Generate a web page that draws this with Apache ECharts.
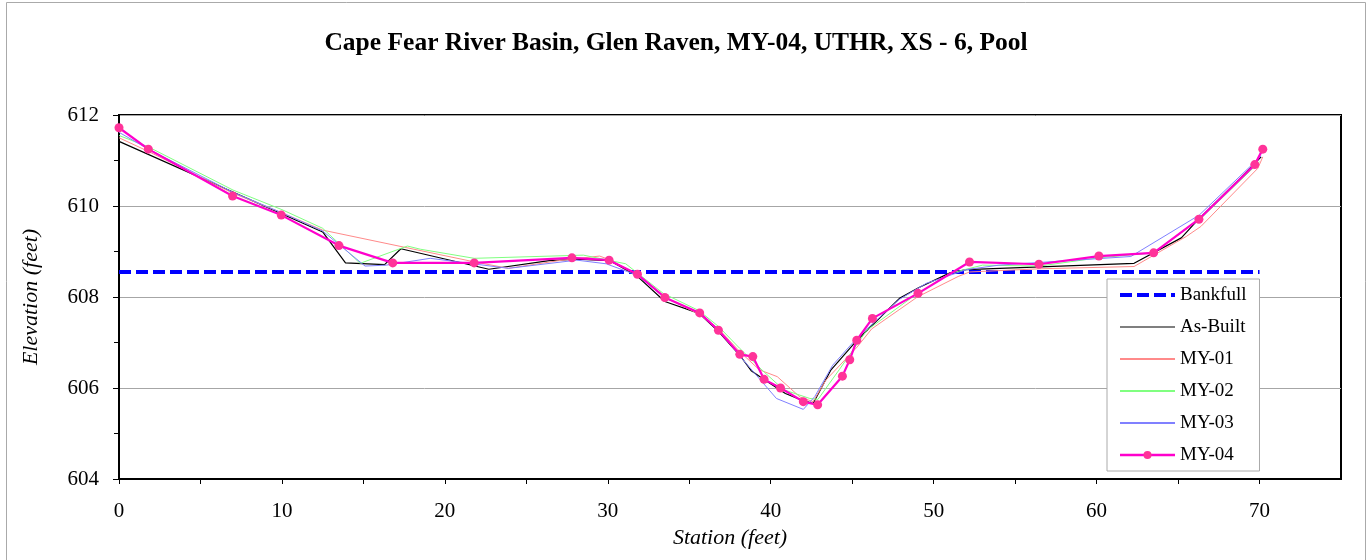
<!DOCTYPE html>
<html><head><meta charset="utf-8">
<script src="https://cdn.jsdelivr.net/npm/echarts@6/dist/echarts.min.js"></script>
<style>html,body{margin:0;padding:0;background:#fff}#c{width:1369px;height:560px}</style>
</head><body><div id="c"></div>
<script>
const titleText = 'Cape Fear River Basin, Glen Raven, MY-04, UTHR, XS - 6, Pool';
const seriesNames = ['Bankfull','As-Built','MY-01','MY-02','MY-03','MY-04'];

const bankfullX = [0, 70];
const bankfullY = [608.55, 608.55];

const asBuiltX = [0,12.5,13.9,16.3,17.3,22.7,26.4,28.1,30.1,31.8,33.5,35.6,36.8,38.1,38.8,39.5,40.9,41.8,42.6,43.7,45.3,47.9,49.1,51.0,52.0,62.3,65.2,66.2,68.8,70.1];
const asBuiltY = [611.42,609.43,608.75,608.71,609.06,608.61,608.80,608.83,608.80,608.46,607.90,607.64,607.24,606.72,606.38,606.21,605.88,605.75,605.66,606.40,607.05,607.97,608.21,608.53,608.60,608.74,609.30,609.69,610.60,611.08];

const my01X = [0,1.8,7.0,10.0,12.5,21.7,23.9,27.0,29.5,30.1,31.8,33.5,35.6,36.8,38.1,39.3,40.4,41.8,42.6,43.4,45.3,46.2,49.0,51.5,52.2,56.5,62.3,65.5,66.4,69.9,70.2];
const my01Y = [611.50,611.20,610.28,609.85,609.47,608.78,608.63,608.80,608.90,608.82,608.50,608.00,607.62,607.30,606.80,606.40,606.25,605.80,605.70,606.18,606.90,607.30,608.00,608.45,608.55,608.62,608.67,609.33,609.55,610.83,611.08];

const my02X = [0,1.8,7.0,10.0,12.5,14.8,17.7,18.5,21.8,28.5,31.1,33.4,35.6,36.8,38.1,39.6,40.8,42.4,42.9,44.2,45.9,48.7,51.0,53.0,56.5,60.1,63.5,66.5,70.0];
const my02Y = [611.55,611.30,610.35,609.92,609.51,608.74,609.12,609.05,608.85,608.92,608.73,608.08,607.70,607.35,606.87,606.35,605.96,605.77,605.75,606.40,607.27,608.00,608.52,608.70,608.68,608.86,608.97,609.76,610.97];

const my03X = [0,1.8,7.0,10.0,12.5,15.1,16.4,19.1,23.9,28.1,29.9,31.8,33.5,35.6,36.8,38.3,40.35,42.0,42.7,43.8,45.3,47.9,49.55,52.0,54.0,62.1,66.3,70.1];
const my03Y = [611.62,611.25,610.30,609.85,609.45,608.68,608.70,608.85,608.63,608.81,608.73,608.48,607.98,607.66,607.28,606.62,605.77,605.53,605.81,606.50,607.10,607.95,608.30,608.60,608.70,608.89,609.80,611.10];

const my04X = [0,1.8,6.97,9.96,13.5,16.8,21.8,27.8,30.08,31.82,33.5,35.64,36.79,38.1,38.9,39.59,40.6,42.0,42.88,44.4,44.85,45.28,46.24,49.04,52.2,56.46,60.14,63.5,66.28,69.71,70.2];
const my04Y = [611.72,611.25,610.22,609.80,609.13,608.75,608.75,608.86,608.81,608.50,607.99,607.65,607.27,606.74,606.69,606.19,606.00,605.70,605.63,606.26,606.62,607.05,607.53,608.08,608.77,608.72,608.90,608.97,609.71,610.91,611.25];

const xTickLabels = ['0','10','20','30','40','50','60','70'];
const yTickLabels = ['604','606','608','610','612'];

function pairs(xs, ys){ return xs.map((x,i)=>[x, ys[i]]); }
const FONT = 'Liberation Serif';
const hiddenMark = {color:'rgba(0,0,0,0)', borderWidth:0, opacity:0};

const chart = echarts.init(document.getElementById('c'), null, {renderer:'canvas'});
chart.setOption({
  backgroundColor:'#fff',
  animation:false,
  graphic:[
    {type:'rect', shape:{x:6.5,y:2.5,width:1359,height:620}, style:{fill:'none',stroke:'#aaaaaa',lineWidth:1}, z:-10},
    {type:'text', x:676, y:43, style:{text:titleText, font:'bold 25.5px "Liberation Serif"', fill:'#000', textAlign:'center', textVerticalAlign:'middle'}}
  ],
  grid:{left:119, right:28, top:115, bottom:81, show:true, borderColor:'#000', borderWidth:2, backgroundColor:'transparent'},
  legend:{
    show:true, orient:'vertical', left:1107, top:279,
    backgroundColor:'#fff', borderColor:'#aaaaaa', borderWidth:1,
    padding:[6,13,6,11], itemWidth:55, itemHeight:10, itemGap:12,
    selectedMode:false,
    textStyle:{fontFamily:FONT, fontSize:19, color:'#000', lineHeight:20, height:20},
    data:[
      {name:'Bankfull', itemStyle:hiddenMark, lineStyle:{width:4, type:[12,5], color:'#0000ff'}},
      {name:'As-Built', itemStyle:hiddenMark, lineStyle:{width:1.5, color:'#555555'}},
      {name:'MY-01', itemStyle:hiddenMark},
      {name:'MY-02', itemStyle:hiddenMark},
      {name:'MY-03', itemStyle:hiddenMark},
      {name:'MY-04', lineStyle:{width:2.5}}
    ]
  },
  xAxis:{
    type:'value', min:0, max:75, interval:5,
    name:'Station (feet)', nameLocation:'middle', nameGap:47,
    nameTextStyle:{fontFamily:FONT, fontSize:22, fontStyle:'italic', color:'#000'},
    axisLine:{show:true, onZero:false, lineStyle:{color:'#000', width:2}},
    axisTick:{show:true, inside:false, length:5, lineStyle:{color:'#000'}},
    axisLabel:{fontFamily:FONT, fontSize:21, color:'#000', margin:22, showMaxLabel:false,
      formatter:function(v){ const s=String(Math.round(v)); return xTickLabels.indexOf(s)>=0 && v%10===0 ? s : ''; }},
    splitLine:{show:false}
  },
  yAxis:{
    type:'value', min:604, max:612, interval:2,
    name:'Elevation (feet)', nameLocation:'middle', nameGap:77, nameRotate:90,
    nameTextStyle:{fontFamily:FONT, fontSize:22, fontStyle:'italic', color:'#000'},
    axisLine:{show:true, lineStyle:{color:'#000', width:2}},
    axisTick:{show:true, inside:false, length:6, lineStyle:{color:'#000'}},
    minorTick:{show:true, splitNumber:2, length:5, lineStyle:{color:'#000'}},
    axisLabel:{fontFamily:FONT, fontSize:21, color:'#000', margin:20,
      formatter:function(v){ const s=String(v); return yTickLabels.indexOf(s)>=0 ? s : ''; }},
    splitLine:{show:true, lineStyle:{color:'#a6a6a6', width:1}}
  },
  series:[
    {name:'Bankfull', type:'line', data:pairs(bankfullX,bankfullY), symbol:'none',
      lineStyle:{color:'#0000ff', width:4, type:[12,5]}, itemStyle:{color:'#0000ff'}},
    {name:'As-Built', type:'line', data:pairs(asBuiltX,asBuiltY), symbol:'none',
      lineStyle:{color:'#000000', width:1.2}, itemStyle:{color:'#000000'}},
    {name:'MY-01', type:'line', data:pairs(my01X,my01Y), symbol:'none',
      lineStyle:{color:'#ff8a8a', width:1}, itemStyle:{color:'#ff8a8a'}},
    {name:'MY-02', type:'line', data:pairs(my02X,my02Y), symbol:'none',
      lineStyle:{color:'#80ff80', width:1}, itemStyle:{color:'#80ff80'}},
    {name:'MY-03', type:'line', data:pairs(my03X,my03Y), symbol:'none',
      lineStyle:{color:'#8080ff', width:1}, itemStyle:{color:'#8080ff'}},
    {name:'MY-04', type:'line', data:pairs(my04X,my04Y), symbol:'circle', symbolSize:9,
      lineStyle:{color:'#ff00cc', width:2.2}, itemStyle:{color:'#ff3399', borderWidth:0}}
  ]
});
</script></body></html>
